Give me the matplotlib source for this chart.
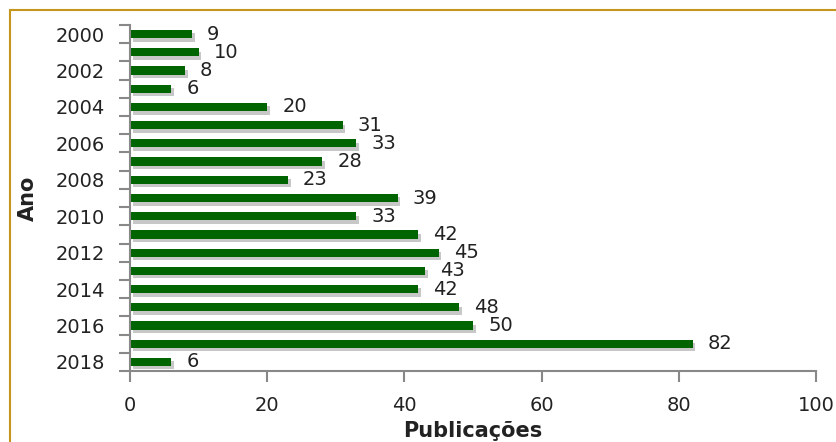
import numpy as np
import matplotlib.pyplot as plt
from matplotlib.patches import Rectangle
from matplotlib import patheffects as pe

anos = list(range(2000, 2019))
publicacoes = [9, 10, 8, 6, 20, 31, 33, 28, 23, 39, 33, 42, 45, 43, 42, 48, 50, 82, 6]
x_ticks = [0, 20, 40, 60, 80, 100]

fig = plt.figure(figsize=(8.37, 4.42), dpi=100)
ax = fig.add_axes([130/837, 1-371/442, 686/837, 346/442])

# moldura dourada
fig.patches.append(Rectangle((10/837, -0.1), 1.0, 1.1 - 10/442, transform=fig.transFigure,
                             fill=False, edgecolor='#c5961e', linewidth=1.5, zorder=0))

pos = np.arange(len(anos))
sombra = [pe.SimplePatchShadow(offset=(2, -2.5), shadow_rgbFace='#999999', alpha=0.55), pe.Normal()]
bars = ax.barh(pos, publicacoes, height=0.45, color='#006400', path_effects=sombra)

for b, v in zip(bars, publicacoes):
    ax.text(b.get_width() + 2.2, b.get_y() + b.get_height()/2, str(v),
            va='center', ha='left', fontsize=14, color='#222222')

ax.set_xlim(0, 100)
ax.set_ylim(len(anos) - 0.5, -0.5)
ax.set_xticks(x_ticks)
ax.tick_params(axis='x', colors='#888888', labelcolor='#222222', labelsize=14,
               length=8, width=1.5, pad=10)

ax.set_yticks(np.arange(-0.5, len(anos)), labels=[])
ax.set_yticks(pos[::2], labels=[str(a) for a in anos[::2]], minor=True)
ax.tick_params(axis='y', which='major', colors='#888888', length=8, width=1.5)
ax.tick_params(axis='y', which='minor', length=0, labelsize=14, labelcolor='#222222', pad=18)

for s in ['top', 'right']:
    ax.spines[s].set_visible(False)
for s in ['left', 'bottom']:
    ax.spines[s].set_color('#888888')
    ax.spines[s].set_linewidth(1.5)

ax.set_xlabel('Publicações', fontsize=15, fontweight='bold', color='#222222', labelpad=4)
ax.set_ylabel('Ano', fontsize=15, fontweight='bold', color='#222222', labelpad=13)

fig.savefig('out.png', dpi=100)
